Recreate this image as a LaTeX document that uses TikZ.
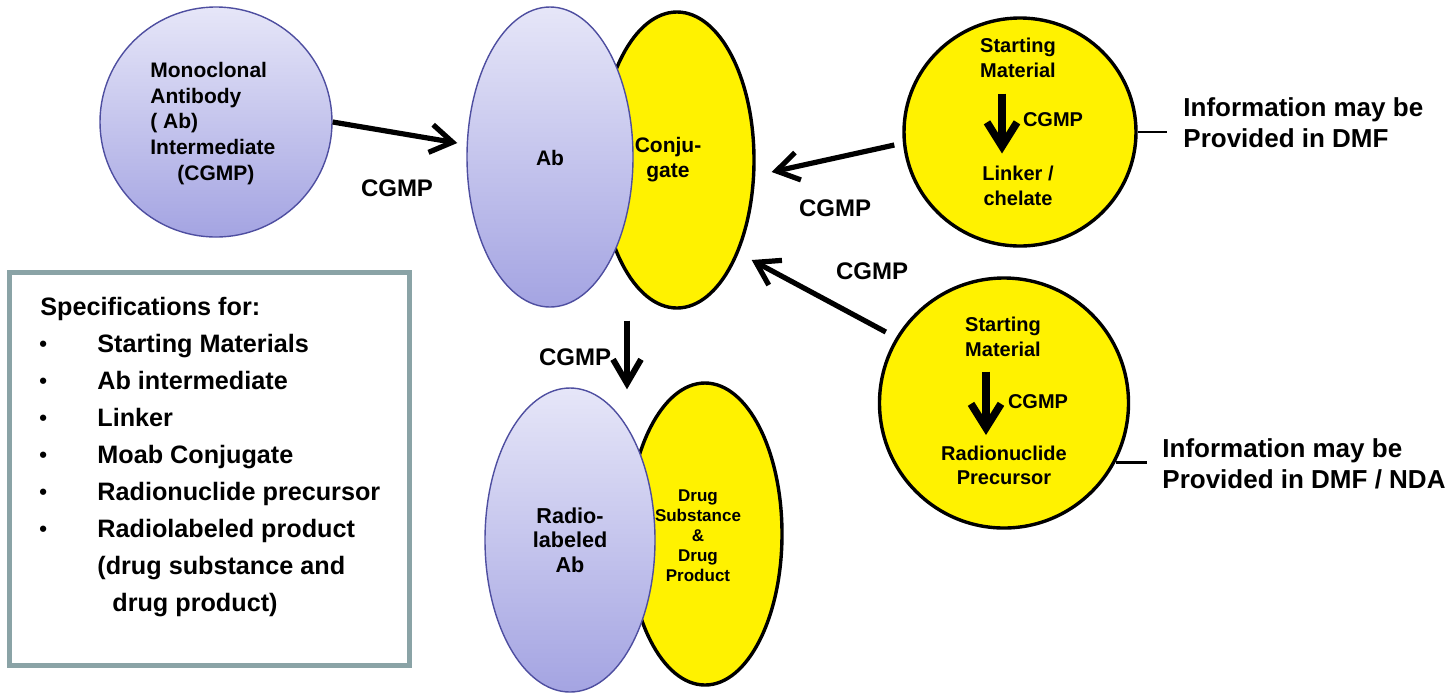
\documentclass[tikz,border=0pt]{standalone}
\usepackage{fontspec}
\setmainfont{Liberation Sans}
\usetikzlibrary{shapes.geometric,arrows.meta,calc}
\definecolor{abtop}{RGB}{230,230,248}
\definecolor{abbot}{RGB}{164,164,226}
\definecolor{abline}{RGB}{78,78,160}
\definecolor{boxline}{RGB}{138,163,166}
\begin{document}
\begin{tikzpicture}[x=0.5pt,y=-0.5pt,
  abell/.style={ellipse, draw=abline, line width=0.7pt, top color=abtop, bottom color=abbot, inner sep=0},
  yell/.style={ellipse, draw=black, line width=1.7pt, fill=yellow, inner sep=0},
  lbl/.style={font=\fontsize{12}{14}\selectfont\bfseries, inner sep=0},
  intxt/.style={font=\fontsize{10}{12.5}\selectfont\bfseries, inner sep=0, align=center},
  smtxt/.style={font=\fontsize{8.5}{10}\selectfont\bfseries, inner sep=0, align=center},
  incg/.style={font=\fontsize{10}{12}\selectfont\bfseries, inner sep=0},
  info/.style={font=\fontsize{13}{15.5}\selectfont\bfseries, inner sep=0, align=left, anchor=west},
  boxtxt/.style={font=\fontsize{12.6}{15}\selectfont\bfseries, inner sep=0, anchor=base west},
  bul/.style={font=\fontsize{11}{15}\selectfont\bfseries, inner sep=0, anchor=base west},
  arr/.style={line width=2.6pt, -{Straight Barb[length=11pt,width=14pt]}},
  inarr/.style={line width=3.8pt, -{Straight Barb[length=12pt,width=15pt]}},
  tick/.style={line width=1.3pt}
]
\useasboundingbox (0,0) rectangle (1445,693);

% left circle
\node[abell, minimum width=116pt, minimum height=115pt] (mono) at (216,122) {};
\node[intxt, align=left, anchor=west, font=\fontsize{10.5}{12.9}\selectfont\bfseries] (monotxt) at (150,123.5)
  {Monoclonal\\Antibody\\( Ab)\\Intermediate\\\hspace{13.5pt}(CGMP)};

% Ab / conjugate
\node[yell, minimum width=77pt, minimum height=148pt] (conj) at (677,160) {};
\node[abell, minimum width=83pt, minimum height=150pt] (ab) at (550,157) {};
\node[intxt, font=\fontsize{10.5}{12.5}\selectfont\bfseries] (abtxt) at (550,158) {Ab};
\node[intxt, font=\fontsize{10.5}{12.5}\selectfont\bfseries] (conjtxt) at (668,159.5) {Conju-\\gate};

% radiolabeled / drug
\node[yell, minimum width=77pt, minimum height=151pt] (drug) at (705,534) {};
\node[abell, minimum width=85pt, minimum height=152pt] (rab) at (570,540) {};
\node[intxt, font=\fontsize{10.8}{12.3}\selectfont\bfseries] (rabtxt) at (570,540) {Radio-\\labeled\\Ab};
\node[smtxt] (drugtxt) at (698,535.5) {Drug\\Substance\\\&\\Drug\\Product};

% top-right circle
\node[yell, minimum width=116pt, minimum height=114pt] (tr) at (1020,132) {};
\node[intxt] (tsm) at (1018,57.5) {Starting\\Material};
\node[intxt] (tlc) at (1018,185.5) {Linker /\\chelate};
\node[incg] (tcg) at (1053,120) {CGMP};
\draw[inarr] ($(tsm.center)+(-16,36)$) -- ($(tlc.center)+(-16,-32)$);

% bottom-right circle
\node[yell, minimum width=124.5pt, minimum height=125pt] (br) at (1004,403) {};
\node[intxt] (bsm) at (1003,336.5) {Starting\\Material};
\node[intxt, font=\fontsize{10}{12}\selectfont\bfseries] (brp) at (1004,465) {Radionuclide\\Precursor};
\node[incg] (bcg) at (1038,402) {CGMP};
\draw[inarr] ($(bsm.center)+(-17,35)$) -- ($(brp.center)+(-18,-30)$);

% info texts
\node[info] (info1) at (1183,122.5) {Information may be\\Provided in DMF};
\node[info] (info2) at (1162,463.5) {Information may be\\Provided in DMF / NDA};
\draw[tick, shorten >=8pt] (tr.east) -- (tr.east -| info1.west);
\draw[tick, shorten >=7.5pt] (br.-28) -- (br.-28 -| info2.west);

% main arrows
\draw[arr] (mono.east) -- ($(ab.west)+(-9,-14)$);
\draw[arr] ($(tr.west)+(-8,13)$) -- ($(conj.east)+(16,12)$);
\draw[arr] ($(br.west)+(8,-71)$) -- ($(conj.east)+(-4,100)$);
\draw[arr, line width=3pt, -{Straight Barb[length=12pt,width=14pt]}] ($(ab.south)+(77,13)$) -- ($(rab.north)+(57,2)$);

\node[lbl] (cg1) at (397,188) {CGMP};
\node[lbl] (cg2) at (835,208) {CGMP};
\node[lbl] (cg3) at (872,271) {CGMP};
\node[lbl] (cg4) at (575,357) {CGMP};

% specification box
\node[draw=boxline, line width=2.5pt, minimum width=200pt, minimum height=196.5pt, inner sep=0] (specbox) at (209,468.5) {};
\node[boxtxt] (s0) at (40,315) {Specifications for:};
\node[bul] (p1) at (39,351) {•};
\node[bul] (p2) at (39,388) {•};
\node[bul] (p3) at (39,425) {•};
\node[bul] (p4) at (39,462) {•};
\node[bul] (p5) at (39,499) {•};
\node[bul] (p6) at (39,536) {•};
\node[boxtxt] (s1) at (97,352) {Starting Materials};
\node[boxtxt] (s2) at (97,389) {Ab intermediate};
\node[boxtxt] (s3) at (97,426) {Linker};
\node[boxtxt] (s4) at (97,463) {Moab Conjugate};
\node[boxtxt] (s5) at (97,500) {Radionuclide precursor};
\node[boxtxt] (s6) at (97,537) {Radiolabeled product};
\node[boxtxt] (s7) at (97,574) {(drug substance and};
\node[boxtxt] (s8) at (112,611) {drug product)};
\end{tikzpicture}
\end{document}
